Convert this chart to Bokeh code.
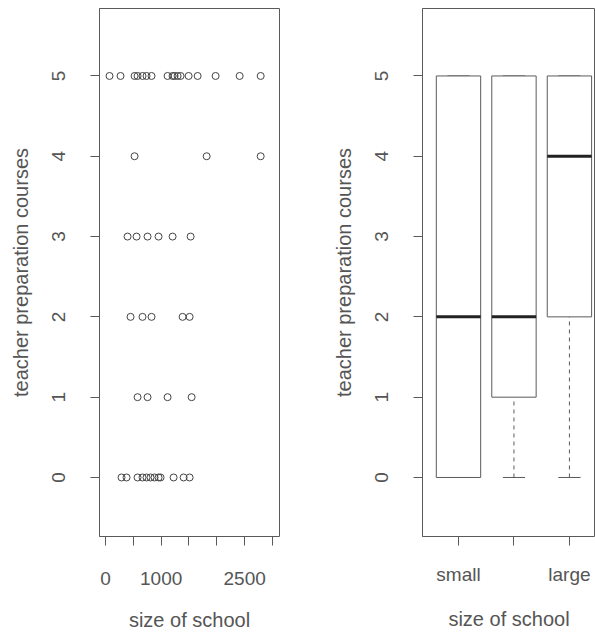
from bokeh.plotting import figure
from bokeh.layouts import row
from bokeh.models import FixedTicker, Range1d
from bokeh.embed import file_html
from bokeh.resources import INLINE

# ---- data: scatter (size of school vs teacher preparation courses) ----
size_c5 = [72, 270, 522, 576, 665, 737, 827, 1115, 1205, 1241, 1295, 1349, 1493, 1655, 1978, 2410, 2788]
size_c4 = [522, 1817, 2788]
size_c3 = [396, 558, 755, 953, 1205, 1529]
size_c2 = [450, 665, 827, 1385, 1511]
size_c1 = [576, 755, 1115, 1547]
size_c0 = [288, 378, 576, 665, 737, 809, 881, 953, 989, 1223, 1403, 1511]

school_size = size_c5 + size_c4 + size_c3 + size_c2 + size_c1 + size_c0
courses = ([5] * len(size_c5) + [4] * len(size_c4) + [3] * len(size_c3)
           + [2] * len(size_c2) + [1] * len(size_c1) + [0] * len(size_c0))

x_ticks = [0, 500, 1000, 1500, 2000, 2500, 3000]
x_tick_labels = ["0", "", "1000", "", "", "2500", ""]
y_ticks = [0, 1, 2, 3, 4, 5]

# ---- data: boxplot by school size category ----
categories = ["small", "medium", "large"]
cat_tick_labels = ["small", "", "large"]
box_lower = [0, 0, 0]
box_q1 = [0, 1, 2]
box_median = [2, 2, 4]
box_q3 = [5, 5, 5]
box_upper = [5, 5, 5]

FONT = "Liberation Sans"
TEXT = "#555555"
LINE = "#5a5a5a"
FS_TICK = "19px"
FS_LABEL = "20px"

Y0, Y1 = -0.735, 5.84


def style(p, xlabel, ylabel, xs1, xs2):
    p.xgrid.visible = False
    p.ygrid.visible = False
    p.outline_line_color = LINE
    p.outline_line_width = 1
    for ax in (p.xaxis[0], p.yaxis[0]):
        ax.axis_line_color = LINE
        ax.major_tick_line_color = LINE
        ax.minor_tick_line_color = None
        ax.major_tick_in = 0
        ax.major_tick_out = 9
        ax.major_label_text_font = FONT
        ax.major_label_text_font_size = FS_TICK
        ax.major_label_text_color = TEXT
        ax.major_label_text_line_height = 1.0
        ax.axis_label_text_font = FONT
        ax.axis_label_text_font_size = FS_LABEL
        ax.axis_label_text_color = TEXT
        ax.axis_label_text_font_style = "normal"
        ax.axis_label_text_line_height = 1.0
    p.xaxis.axis_label = xlabel
    p.yaxis.axis_label = ylabel
    p.yaxis.major_label_orientation = "vertical"
    p.yaxis.ticker = FixedTicker(ticks=y_ticks)
    p.xaxis.major_label_standoff = xs1
    p.xaxis.axis_label_standoff = xs2
    p.yaxis.major_label_standoff = 25
    p.yaxis.axis_label_standoff = 18


# ---- left: scatter ----
p1 = figure(width=300, height=633, output_backend="svg", toolbar_location=None,
            x_range=Range1d(-108, 3126), y_range=Range1d(Y0, Y1),
            min_border_left=99, min_border_right=21, min_border_top=8, min_border_bottom=97)
style(p1, "size of school", "teacher preparation courses", 26, 21)
p1.xaxis.ticker = FixedTicker(ticks=x_ticks)
p1.xaxis.major_label_overrides = {t: l for t, l in zip(x_ticks, x_tick_labels)}
p1.xaxis.bounds = (x_ticks[0], x_ticks[-1])
p1.scatter(school_size, courses, marker="circle", size=7, fill_color=None,
           line_color="#444444", line_width=1)

# ---- right: boxplot ----
xs = [i + 1 for i in range(len(categories))]
p2 = figure(width=295, height=633, output_backend="svg", toolbar_location=None,
            x_range=Range1d(0.351, 3.47), y_range=Range1d(Y0, Y1),
            min_border_left=122, min_border_right=0, min_border_top=8, min_border_bottom=97)
style(p2, "size of school", "teacher preparation courses", 18, 20)
p2.xaxis.ticker = FixedTicker(ticks=xs)
p2.xaxis.major_label_overrides = {x: l for x, l in zip(xs, cat_tick_labels)}
p2.xaxis.bounds = (1, 3)

# whiskers
p2.segment(xs, box_lower, xs, box_q1, line_color=LINE, line_width=1, line_dash="4 4")
p2.segment(xs, box_q3, xs, box_upper, line_color=LINE, line_width=1, line_dash="4 4")
# staples
p2.segment([x - 0.2 for x in xs], box_lower, [x + 0.2 for x in xs], box_lower, line_color=LINE, line_width=1)
p2.segment([x - 0.2 for x in xs], box_upper, [x + 0.2 for x in xs], box_upper, line_color=LINE, line_width=1)
# boxes
p2.quad(left=[x - 0.4 for x in xs], right=[x + 0.4 for x in xs], bottom=box_q1, top=box_q3,
        fill_color="white", line_color=LINE, line_width=1)
# medians
p2.segment([x - 0.4 for x in xs], box_median, [x + 0.4 for x in xs], box_median,
           line_color="#222222", line_width=3)

layout = row(p1, p2)
open("out.html", "w").write(file_html(layout, INLINE))
